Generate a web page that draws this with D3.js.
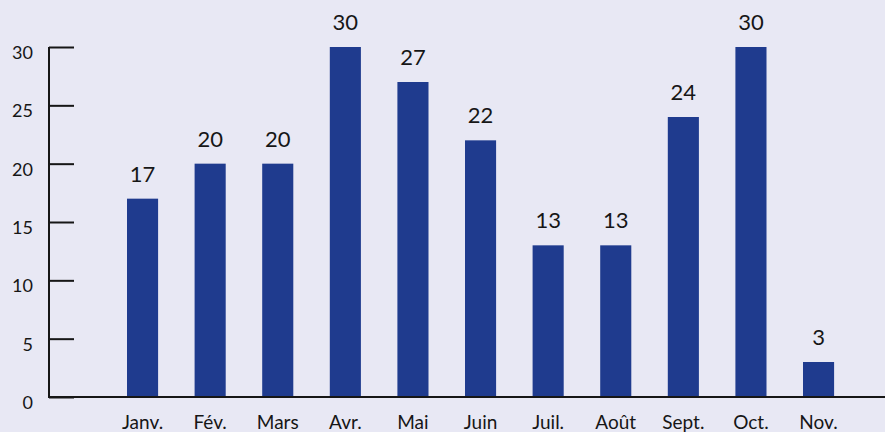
<!DOCTYPE html>
<html>
<head>
<meta charset="utf-8">
<script src="https://cdn.jsdelivr.net/npm/d3@7"></script>
<style>
  html, body { margin: 0; padding: 0; background: #e8e8f4; }
  svg { display: block; font-family: "Lato", "Open Sans", sans-serif; }
</style>
</head>
<body>
<svg id="chart"></svg>
<script>
const months = ["Janv.", "Fév.", "Mars", "Avr.", "Mai", "Juin", "Juil.", "Août", "Sept.", "Oct.", "Nov."];
const counts = [17, 20, 20, 30, 27, 22, 13, 13, 24, 30, 3];
const yTicks = [0, 5, 10, 15, 20, 25, 30];

const width = 885;
const height = 432;
const barColor = "#1f3b8e";
const textColor = "#161616";

const svg = d3.select("#chart")
  .attr("width", width)
  .attr("height", height);

svg.append("rect")
  .attr("width", width)
  .attr("height", height)
  .attr("fill", "#e8e8f4");

const x = d3.scaleBand()
  .domain(months)
  .range([108.75, 852.35])
  .paddingInner(0.54)
  .paddingOuter(0.27);

const y = d3.scaleLinear()
  .domain([0, 30])
  .range([397, 47]);

// bars
svg.append("g")
  .selectAll("rect")
  .data(months)
  .enter()
  .append("rect")
  .attr("x", (d) => x(d))
  .attr("width", x.bandwidth())
  .attr("y", (d, i) => y(counts[i]))
  .attr("height", (d, i) => y(0) - y(counts[i]))
  .attr("fill", barColor);

// value labels
svg.append("g")
  .selectAll("text")
  .data(months)
  .enter()
  .append("text")
  .attr("x", (d) => x(d) + x.bandwidth() / 2)
  .attr("y", (d, i) => y(counts[i]) - 17)
  .attr("text-anchor", "middle")
  .attr("font-size", 22)
  .attr("fill", textColor)
  .text((d, i) => counts[i]);

// y axis: ticks point inward
const yAxis = svg.append("g")
  .attr("transform", "translate(49,0)")
  .call(d3.axisRight(y).tickValues(yTicks).tickSize(25).tickFormat(""));
yAxis.select(".domain").attr("stroke", textColor).attr("stroke-width", 2)
  .attr("d", `M0,${y(30)}V${y(0)}`);
yAxis.selectAll(".tick line").attr("stroke", textColor).attr("stroke-width", 2);

svg.append("g")
  .selectAll("text")
  .data(yTicks)
  .enter()
  .append("text")
  .attr("x", 33)
  .attr("y", (d) => y(d) + 12)
  .attr("text-anchor", "end")
  .attr("font-size", 18)
  .attr("fill", textColor)
  .text((d) => d);

// x axis
const xAxis = svg.append("g")
  .attr("transform", `translate(0,${y(0)})`)
  .call(d3.axisBottom(x).tickSize(0).tickPadding(19));
xAxis.select(".domain").attr("stroke", textColor).attr("stroke-width", 2)
  .attr("d", `M48,0H${width}`);
xAxis.selectAll(".tick text")
  .attr("font-size", 19)
  .attr("font-family", "Lato, 'Open Sans', sans-serif")
  .attr("fill", textColor);
</script>
</body>
</html>
